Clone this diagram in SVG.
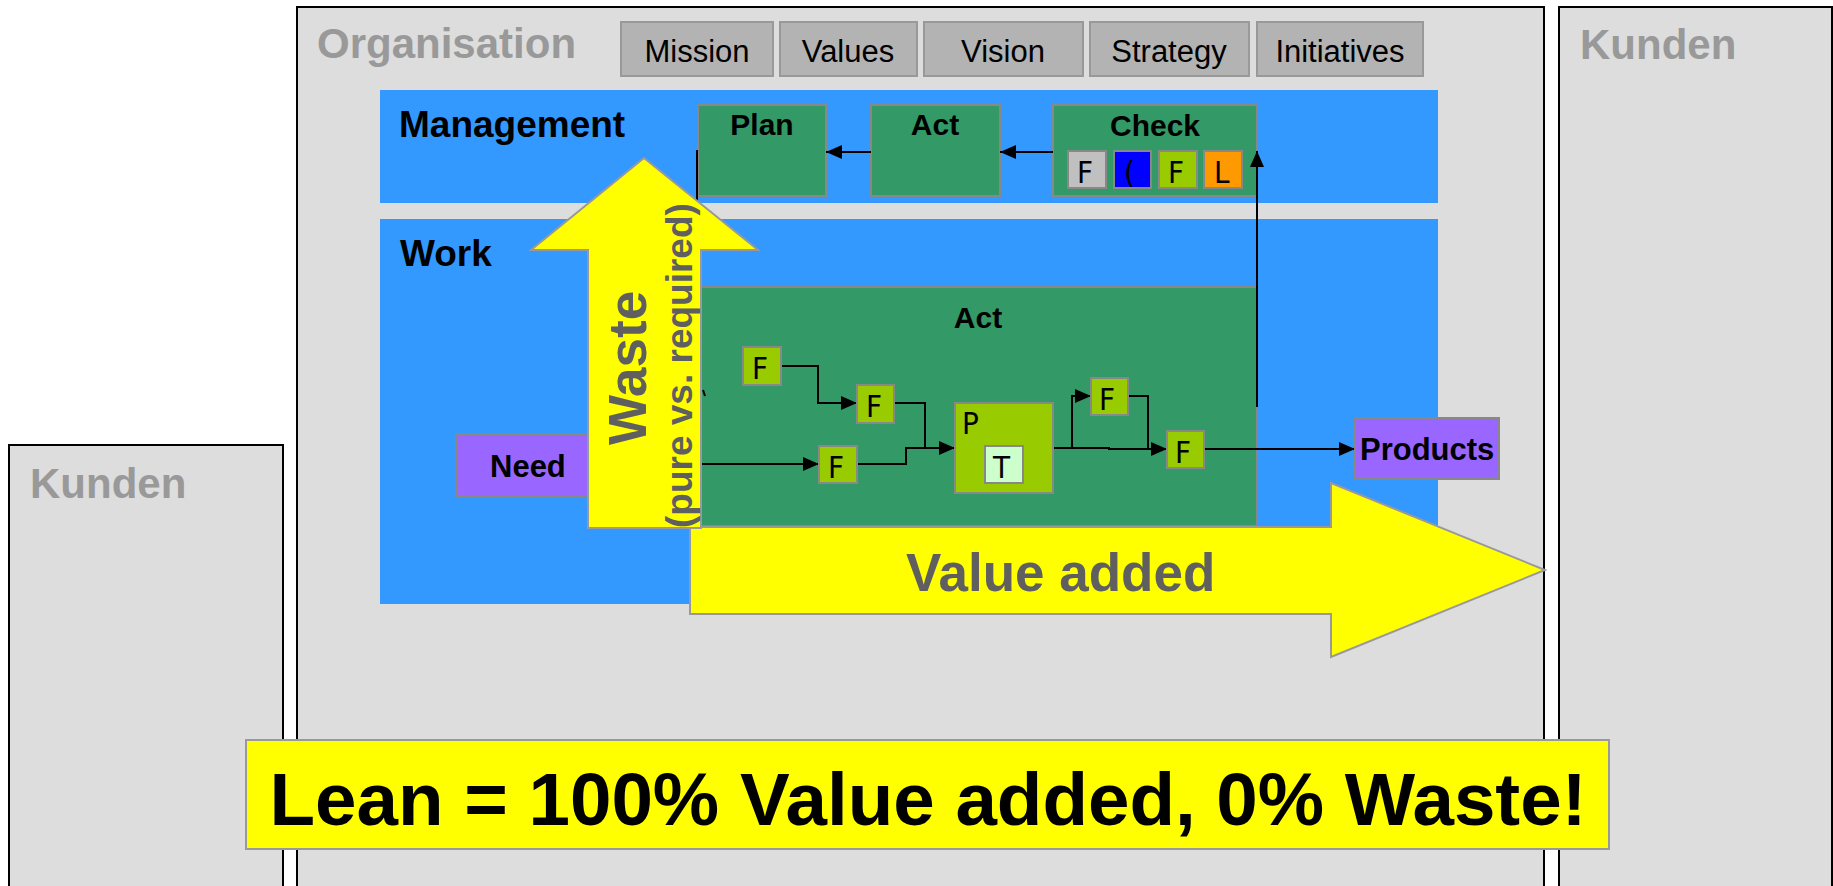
<svg xmlns="http://www.w3.org/2000/svg" width="1833" height="886" viewBox="0 0 1833 886">
<defs>
<style>
.area{fill:#DDDDDD;stroke:#000;stroke-width:2}
.area-t{font-family:"Liberation Sans",Arial,sans-serif;font-weight:bold;font-size:42px;fill:#999999}
.pill{fill:#B3B3B3;stroke:#999;stroke-width:2}
.pill-t{font-family:"Liberation Sans",Arial,sans-serif;font-size:31px;fill:#000;text-anchor:middle}
.band{fill:#3399FF}
.band-t{font-family:"Liberation Sans",Arial,sans-serif;font-weight:bold;font-size:37px;fill:#000}
.green{fill:#339966;stroke:#888;stroke-width:2}
.bold-t{font-family:"Liberation Sans",Arial,sans-serif;font-weight:bold;font-size:30px;fill:#000;text-anchor:middle}
.fbox{fill:#99CC00;stroke:#888;stroke-width:2}
.small-t{font-family:"Liberation Sans Narrow","DejaVu Sans Condensed","Liberation Sans",sans-serif;font-size:31px;fill:#000}
.purple{fill:#9966FF;stroke:#888;stroke-width:2}
.yellow{fill:#FFFF00;stroke:#999;stroke-width:2}
.conn{fill:none;stroke:#000;stroke-width:2}
.big-t{font-family:"Liberation Sans",Arial,sans-serif;font-weight:bold;fill:#5F5F5F}
</style>
<marker id="ah" markerWidth="16" markerHeight="14" refX="16" refY="7" orient="auto" markerUnits="userSpaceOnUse">
<path d="M0,0 L16,7 L0,14 Z" fill="#000"/>
</marker>
</defs>

<rect width="1833" height="886" fill="#FFFFFF"/>

<g id="kunden-left">
<rect class="area" x="9" y="445" width="274" height="460"/>
<text class="area-t" x="30" y="498">Kunden</text>
</g>

<g id="organisation">
<rect class="area" x="297" y="7" width="1247" height="900"/>
<text class="area-t" x="317" y="58">Organisation</text>
</g>

<g id="kunden-right">
<rect class="area" x="1559" y="7" width="273" height="900"/>
<text class="area-t" x="1580" y="59">Kunden</text>
</g>

<g id="mission"><rect class="pill" x="621" y="22" width="152" height="54"/><text class="pill-t" x="697" y="62">Mission</text></g>
<g id="values"><rect class="pill" x="780" y="22" width="137" height="54"/><text class="pill-t" x="848" y="62">Values</text></g>
<g id="vision"><rect class="pill" x="924" y="22" width="159" height="54"/><text class="pill-t" x="1003" y="62">Vision</text></g>
<g id="strategy"><rect class="pill" x="1090" y="22" width="159" height="54"/><text class="pill-t" x="1169" y="62">Strategy</text></g>
<g id="initiatives"><rect class="pill" x="1257" y="22" width="166" height="54"/><text class="pill-t" x="1340" y="62">Initiatives</text></g>

<g id="management">
<rect class="band" x="380" y="90" width="1058" height="113"/>
<text class="band-t" x="399" y="137">Management</text>
</g>

<g id="work">
<rect class="band" x="380" y="219" width="1058" height="385"/>
<text class="band-t" x="400" y="266">Work</text>
</g>

<g id="plan">
<rect class="green" x="698" y="105" width="128" height="91"/>
<text class="bold-t" x="762" y="135">Plan</text>
</g>

<g id="act-mgmt">
<rect class="green" x="871" y="105" width="129" height="91"/>
<text class="bold-t" x="935" y="135">Act</text>
</g>

<g id="check">
<rect class="green" x="1053" y="105" width="204" height="91"/>
<text class="bold-t" x="1155" y="136">Check</text>
<rect x="1068" y="151" width="38" height="37" fill="#C0C0C0" stroke="#888" stroke-width="2"/>
<text class="small-t" x="1077" y="183">F</text>
<rect x="1114" y="151" width="37" height="37" fill="#0000FF" stroke="#888" stroke-width="2"/>
<text class="small-t" x="1124" y="183">(</text>
<rect x="1159" y="151" width="38" height="37" fill="#99CC00" stroke="#888" stroke-width="2"/>
<text class="small-t" x="1168" y="183">F</text>
<rect x="1204" y="151" width="38" height="37" fill="#FF9900" stroke="#888" stroke-width="2"/>
<text class="small-t" x="1214" y="183">L</text>
</g>

<g id="act-work">
<rect class="green" x="701" y="287" width="556" height="239"/>
<text class="bold-t" x="978" y="328">Act</text>
</g>

<g id="connectors">
<path class="conn" d="M1053,152 L1000,152" marker-end="url(#ah)"/>
<path class="conn" d="M871,152 L826,152" marker-end="url(#ah)"/>
<path class="conn" d="M697,150 L697,215"/>
<path class="conn" d="M703,390 L705,396"/>
<path class="conn" d="M1257,407 L1257,151" marker-end="url(#ah)"/>
<path class="conn" d="M781,366 L818,366 L818,403 L857,403" marker-end="url(#ah)"/>
<path class="conn" d="M894,403 L925,403 L925,448"/>
<path class="conn" d="M590,464 L819,464" marker-end="url(#ah)"/>
<path class="conn" d="M857,464 L906,464 L906,448 L955,448" marker-end="url(#ah)"/>
<path class="conn" d="M1053,448 L1072,448 L1072,396 L1091,396" marker-end="url(#ah)"/>
<path class="conn" d="M1072,448 L1109,448 L1109,449 L1167,449" marker-end="url(#ah)"/>
<path class="conn" d="M1128,396 L1148,396 L1148,449"/>
<path class="conn" d="M1204,449 L1355,449" marker-end="url(#ah)"/>
</g>

<g id="f1"><rect class="fbox" x="743" y="347" width="38" height="38"/><text class="small-t" x="752" y="379">F</text></g>
<g id="f2"><rect class="fbox" x="857" y="385" width="37" height="38"/><text class="small-t" x="866" y="417">F</text></g>
<g id="f3"><rect class="fbox" x="819" y="446" width="38" height="37"/><text class="small-t" x="828" y="478">F</text></g>
<g id="p">
<rect class="fbox" x="955" y="403" width="98" height="90"/>
<text class="small-t" x="962" y="434">P</text>
<rect x="985" y="446" width="38" height="37" fill="#CCFFCC" stroke="#888" stroke-width="2"/>
<text class="small-t" x="993" y="478">T</text>
</g>
<g id="f4"><rect class="fbox" x="1091" y="378" width="37" height="37"/><text class="small-t" x="1099" y="410">F</text></g>
<g id="f5"><rect class="fbox" x="1167" y="431" width="37" height="37"/><text class="small-t" x="1175" y="463">F</text></g>

<g id="need">
<rect class="purple" x="456" y="434" width="144" height="62"/>
<text class="band-t" x="490" y="477" style="font-size:31px">Need</text>
</g>

<g id="products">
<rect class="purple" x="1355" y="418" width="144" height="61"/>
<text class="band-t" x="1360" y="460" style="font-size:31px">Products</text>
</g>

<g id="value-added">
<polygon class="yellow" points="690,527 1331,527 1331,483 1545,570 1331,657 1331,614 690,614"/>
<text class="big-t" x="906" y="591" font-size="53">Value added</text>
</g>

<g id="waste">
<polygon class="yellow" points="588,528 588,250 531,250 644,158 758,250 701,250 701,528"/>
<text class="big-t" font-size="53" transform="translate(646,445) rotate(-90)">Waste</text>
<text class="big-t" font-size="37" fill="#666666" transform="translate(692,528) rotate(-90)">(pure vs. required)</text>
</g>

<g id="lean">
<rect class="yellow" x="246" y="740" width="1363" height="109"/>
<text x="928" y="825" font-family="Liberation Sans, Arial, sans-serif" font-weight="bold" font-size="74" fill="#000" text-anchor="middle" textLength="1317" lengthAdjust="spacingAndGlyphs">Lean = 100% Value added, 0% Waste!</text>
</g>
</svg>
